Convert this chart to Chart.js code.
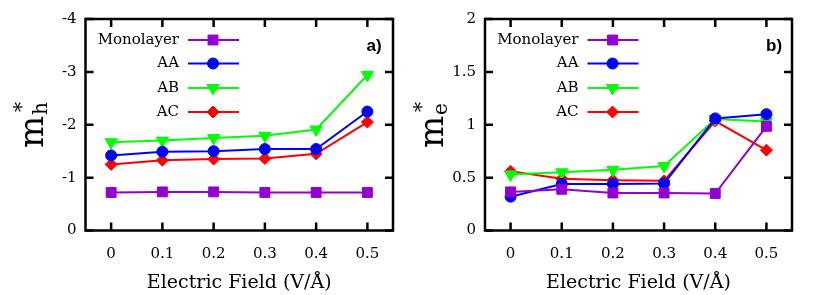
<!DOCTYPE html>
<html>
<head>
<meta charset="utf-8">
<script src="https://cdn.jsdelivr.net/npm/chart.js@4"></script>
<style>
  body { margin: 0; background: #fff; }
  #wrap { position: relative; width: 822px; height: 295px; }
  canvas { position: absolute; top: 0; }
</style>
</head>
<body>
<div id="wrap">
  <canvas id="holeChart" width="411" height="295" style="left:0"></canvas>
  <canvas id="elecChart" width="411" height="295" style="left:411px"></canvas>
</div>
<script>
// electric field values (V/Å)
const fields = [0, 0.1, 0.2, 0.3, 0.4, 0.5];
const seriesNames = ['Monolayer', 'AA', 'AB', 'AC'];

// hole effective mass m_h*
const holeMono = [-0.72, -0.73, -0.73, -0.72, -0.72, -0.72];
const holeAA   = [-1.42, -1.49, -1.50, -1.54, -1.54, -2.25];
const holeAB   = [-1.67, -1.70, -1.75, -1.79, -1.91, -2.94];
const holeAC   = [-1.25, -1.33, -1.35, -1.36, -1.45, -2.05];

// electron effective mass m_e*
const elecMono = [0.365, 0.39, 0.355, 0.355, 0.35, 0.985];
const elecAA   = [0.32, 0.44, 0.44, 0.445, 1.06, 1.10];
const elecAB   = [0.53, 0.55, 0.575, 0.61, 1.055, 1.03];
const elecAC   = [0.56, 0.49, 0.475, 0.47, 1.035, 0.76];

const holeTicks = [-4, -3, -2, -1, 0];
const elecTicks = [0, 0.5, 1, 1.5, 2];

const colors = ['#9400d3', '#0000ff', '#00ff00', '#ff0000'];
const styles = [
  { pointStyle: 'rect', radius: 7, rotation: 0 },
  { pointStyle: 'circle', radius: 5.5, rotation: 0 },
  { pointStyle: 'triangle', radius: 7, rotation: 180 },
  { pointStyle: 'rectRot', radius: 6, rotation: 0 }
];

const serif = 'DejaVu Serif';

function makeDatasets(list) {
  return list.map((vals, i) => ({
    label: seriesNames[i],
    data: vals.map((v, j) => ({ x: fields[j], y: v })),
    borderColor: colors[i],
    backgroundColor: colors[i],
    borderWidth: 2,
    pointStyle: styles[i].pointStyle,
    pointRadius: styles[i].radius,
    pointRotation: styles[i].rotation,
    pointBorderWidth: 1,
    tension: 0
  }));
}

// frame, inward ticks on all four sides, gnuplot-like key and labels
const framePlugin = {
  id: 'frame',
  beforeDatasetsDraw(chart) {
    const { ctx, chartArea: a, scales } = chart;
    ctx.save();
    ctx.strokeStyle = '#000';
    ctx.lineWidth = 2.5;
    ctx.beginPath();
    scales.x.ticks.forEach(t => {
      const px = scales.x.getPixelForValue(t.value);
      ctx.moveTo(px, a.bottom); ctx.lineTo(px, a.bottom - 8);
      ctx.moveTo(px, a.top); ctx.lineTo(px, a.top + 8);
    });
    scales.y.ticks.forEach(t => {
      const py = scales.y.getPixelForValue(t.value);
      ctx.moveTo(a.left, py); ctx.lineTo(a.left + 8, py);
      ctx.moveTo(a.right, py); ctx.lineTo(a.right - 8, py);
    });
    ctx.stroke();
    ctx.strokeRect(a.left, a.top, a.right - a.left, a.bottom - a.top);
    ctx.restore();
  },
  afterDraw(chart) {
    const { ctx, chartArea: a } = chart;
    const o = chart.options.plugins.frame;
    ctx.save();
    // key
    const rows = [21, 44.5, 69, 93];
    chart.data.datasets.forEach((ds, i) => {
      const y = a.top + rows[i];
      ctx.fillStyle = '#000';
      ctx.font = '15px "' + serif + '"';
      ctx.textAlign = 'right';
      ctx.textBaseline = 'middle';
      ctx.fillText(ds.label, a.left + 93.5, y);
      ctx.strokeStyle = ds.borderColor;
      ctx.lineWidth = 2;
      ctx.beginPath();
      ctx.moveTo(a.left + 102.5, y);
      ctx.lineTo(a.left + 153.5, y);
      ctx.stroke();
      ctx.fillStyle = ds.backgroundColor;
      ctx.lineWidth = 1;
      Chart.helpers.drawPoint(ctx, {
        pointStyle: ds.pointStyle, radius: ds.pointRadius,
        rotation: ds.pointRotation, borderWidth: 1
      }, a.left + 127.5, y);
    });
    // panel tag
    ctx.fillStyle = '#000';
    ctx.font = 'bold 17px "Liberation Sans"';
    ctx.textAlign = 'left';
    ctx.textBaseline = 'alphabetic';
    ctx.fillText(o.tag, a.left + 281, a.top + 32);
    // y title m_x^*
    ctx.translate(o.titleX, 148);
    ctx.rotate(-Math.PI / 2);
    ctx.font = '34px "' + serif + '"';
    ctx.fillText('m', 0, 0);
    ctx.font = '20px "' + serif + '"';
    ctx.fillText(o.sub, 33, 4);
    ctx.fillText('*', 36, -15);
    ctx.restore();
  }
};

function makeChart(id, data, ticks, yOpts, axisWidth, padRight, tag, sub, titleX) {
  return new Chart(document.getElementById(id), {
    type: 'line',
    data: { datasets: makeDatasets(data) },
    options: {
      responsive: false,
      animation: false,
      layout: { padding: { top: 19, right: padRight, left: 0, bottom: 0 } },
      plugins: {
        legend: { display: false },
        tooltip: { enabled: false },
        frame: { tag: tag, sub: sub, titleX: titleX }
      },
      scales: {
        x: {
          type: 'linear',
          min: -0.05,
          max: 0.55,
          afterBuildTicks: s => { s.ticks = fields.map(v => ({ value: v })); },
          afterFit: s => { s.height = 64.5; },
          grid: { display: false, drawTicks: false },
          border: { display: false },
          ticks: {
            autoSkip: false,
            maxRotation: 0,
            padding: 15,
            color: '#000',
            font: { family: serif, size: 15 },
            callback: v => String(v)
          },
          title: {
            display: true,
            text: 'Electric Field (V/Å)',
            color: '#000',
            font: { family: serif, size: 19 },
            padding: { top: 4, bottom: 1 }
          }
        },
        y: Object.assign({
          afterBuildTicks: s => { s.ticks = ticks.map(v => ({ value: v })); },
          afterFit: s => { s.width = axisWidth; },
          grid: { display: false, drawTicks: false },
          border: { display: false },
          ticks: {
            padding: 9,
            color: '#000',
            font: { family: serif, size: 15 },
            callback: v => String(v)
          }
        }, yOpts)
      }
    },
    plugins: [framePlugin]
  });
}

makeChart('holeChart', [holeMono, holeAA, holeAB, holeAC], holeTicks,
  { min: -4, max: 0, reverse: true }, 85.5, 18, 'a)', 'h', 43);
makeChart('elecChart', [elecMono, elecAA, elecAB, elecAC], elecTicks,
  { min: 0, max: 2 }, 74, 30, 'b)', 'e', 32);
</script>
</body>
</html>
